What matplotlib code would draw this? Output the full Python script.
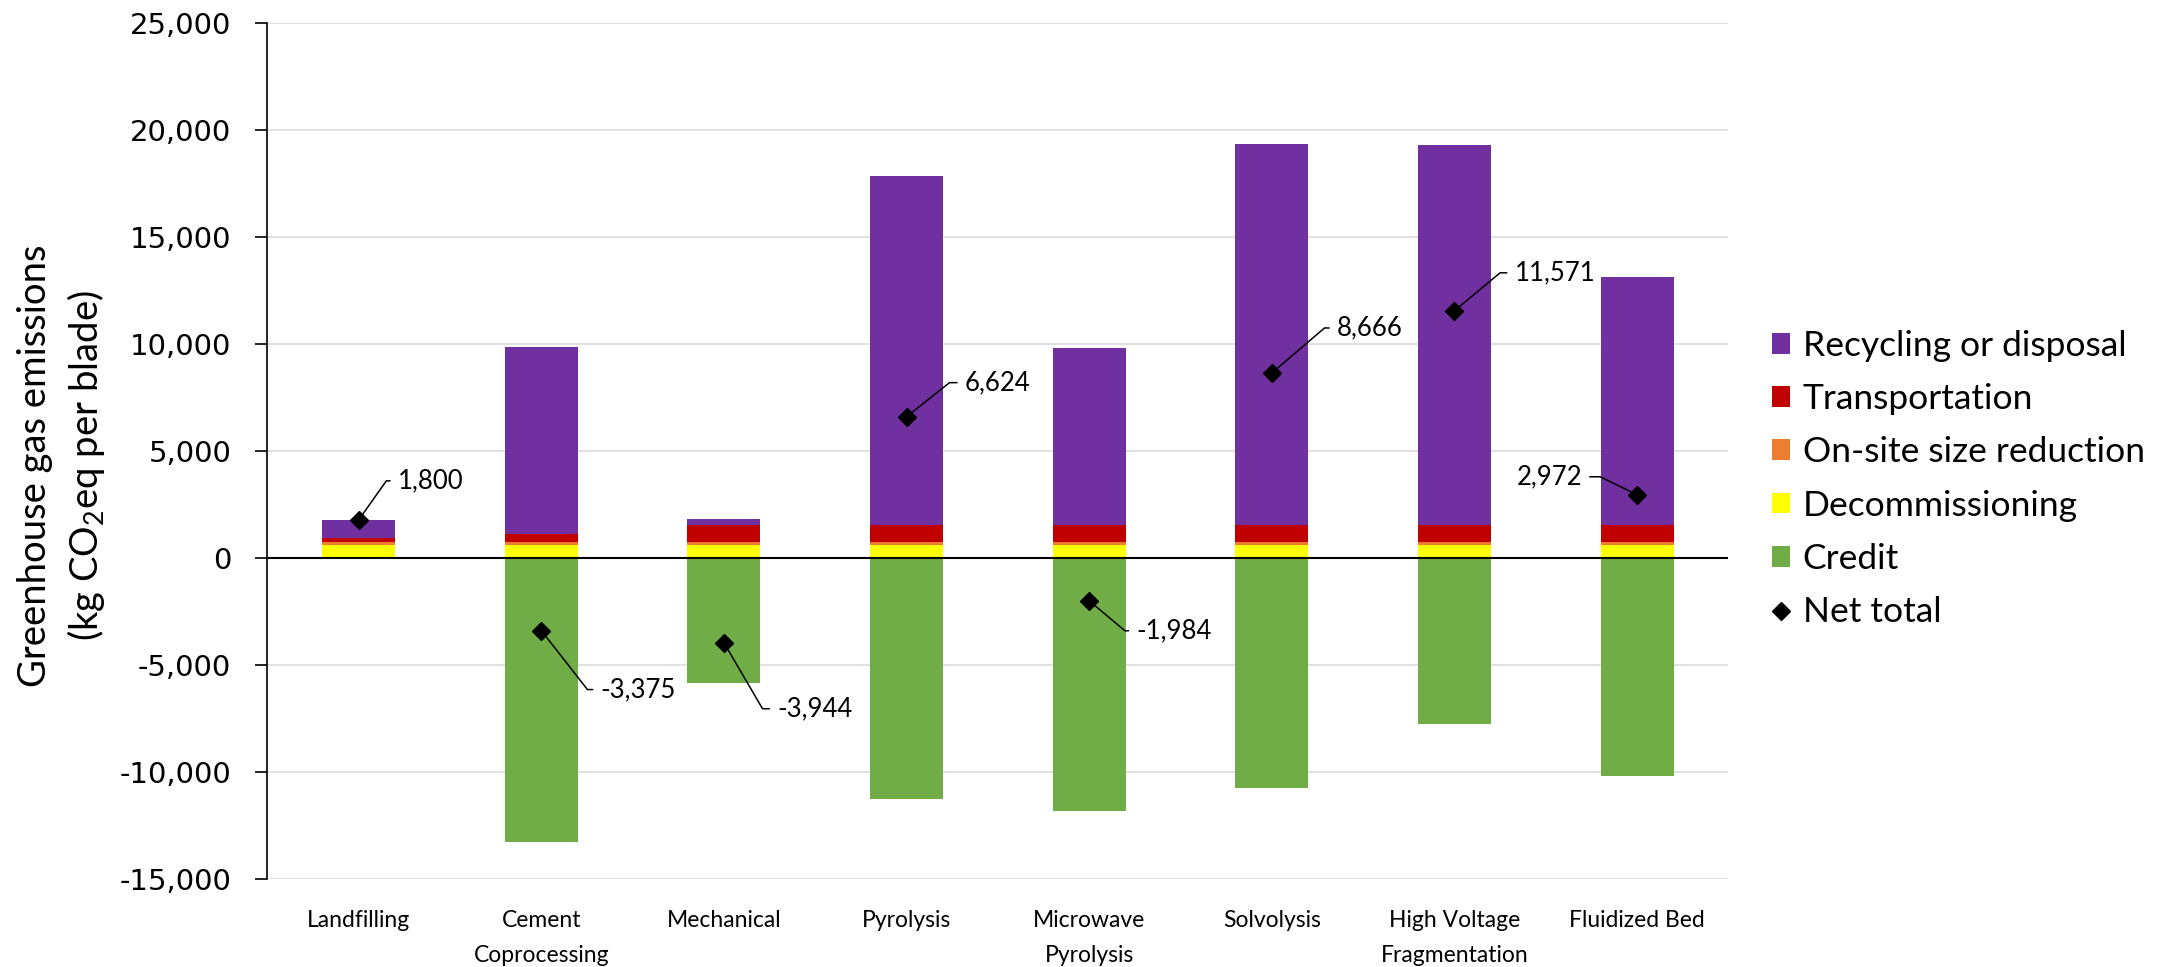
import numpy as np
import matplotlib
matplotlib.use("Agg")
import matplotlib.pyplot as plt
from matplotlib.patches import Patch
from matplotlib.lines import Line2D

plt.rcParams["font.family"] = ["Lato", "DejaVu Sans"]
plt.rcParams["mathtext.fontset"] = "custom"
plt.rcParams["mathtext.rm"] = "Lato"

categories = [
    "Landfilling",
    "Cement\nCoprocessing",
    "Mechanical",
    "Pyrolysis",
    "Microwave\nPyrolysis",
    "Solvolysis",
    "High Voltage\nFragmentation",
    "Fluidized Bed",
]
decommissioning = [620, 620, 620, 620, 620, 620, 620, 620]
size_reduction = [155, 155, 155, 155, 155, 155, 155, 155]
transportation = [185, 345, 805, 805, 805, 805, 805, 805]
recycling = [840, 8760, 280, 16310, 8240, 17800, 17750, 11560]
credit = [0, -13255, -5804, -11266, -11804, -10714, -7759, -10168]
net_total = [1800, -3375, -3944, 6624, -1984, 8666, 11571, 2972]

# label placement for the net total callouts (pixels from the marker)
label_offsets = [(39, 39), (59, -59), (53, -66), (58, 34), (47, -30), (65, 45), (60, 38), (-55, 18)]
leader_angles = [54.7, -52, -59.7, 38.4, -40, 40.5, 39.8, 154]

series = [
    ("Decommissioning", decommissioning, "#FFFF00"),
    ("On-site size reduction", size_reduction, "#ED7D31"),
    ("Transportation", transportation, "#C00000"),
    ("Recycling or disposal", recycling, "#7030A0"),
]

fig = plt.figure(figsize=(21.67, 9.67), dpi=100)
ax = fig.add_axes([0.1234, 0.0907, 0.6742, 0.885])

x = np.arange(len(categories))
width = 0.4
bottom = np.zeros(len(categories))
for name, vals, color in series:
    ax.bar(x, vals, width, bottom=bottom, color=color, linewidth=0, zorder=2)
    bottom += np.array(vals)
ax.bar(x, credit, width, color="#70AD47", linewidth=0, zorder=2)

ax.plot(x, net_total, linestyle="none", marker="D", markersize=9.5,
        color="black", zorder=4)

for i, val in enumerate(net_total):
    dx, dy = label_offsets[i]
    right = dx < 0
    ax.annotate(
        f"{val:,}",
        xy=(x[i], val),
        xytext=(dx, dy),
        textcoords="offset pixels",
        ha="right" if right else "left",
        va="center",
        fontsize=18.5,
        arrowprops=dict(
            arrowstyle="-",
            color="black",
            lw=1.1,
            shrinkA=3.5,
            shrinkB=0,
            relpos=(1, 0.5) if right else (0, 0.5),
            connectionstyle=f"angle,angleA=0,angleB={leader_angles[i]},rad=0",
        ),
        zorder=5,
    )

ax.axhline(0, color="black", lw=1.5, zorder=3)

ax.set_xlim(-0.5, len(categories) - 0.5)
ax.set_ylim(-15000, 25000)
ax.set_yticks(np.arange(-15000, 25001, 5000))
ax.yaxis.set_major_formatter(matplotlib.ticker.FuncFormatter(lambda v, p: f"{int(v):,}"))
ax.yaxis.grid(True, color="#D9D9D9", lw=1.1, zorder=0)
ax.set_axisbelow(True)
for side in ["top", "right", "bottom"]:
    ax.spines[side].set_visible(False)
ax.spines["left"].set_linewidth(1.2)
ax.tick_params(axis="y", length=9, width=1.2, pad=17, labelsize=21)
for lbl in ax.get_yticklabels():
    lbl.set_fontfamily("DejaVu Sans")

ax.set_xticks(x)
ax.set_xticklabels(categories, fontsize=16.5, linespacing=1.85)
ax.tick_params(axis="x", length=0, pad=22)

fig.text(62 / 2167, 1 - 466 / 967,
         "Greenhouse gas emissions\n(kg CO$_\\mathregular{2}$eq per blade)",
         rotation=90, ha="center", va="center", multialignment="center",
         fontsize=27.5, linespacing=1.35)

handles = [
    Patch(facecolor="#7030A0", label="Recycling or disposal"),
    Patch(facecolor="#C00000", label="Transportation"),
    Patch(facecolor="#ED7D31", label="On-site size reduction"),
    Patch(facecolor="#FFFF00", label="Decommissioning"),
    Patch(facecolor="#70AD47", label="Credit"),
    Line2D([], [], linestyle="none", marker="D", markersize=9.5, color="black",
           label="Net total"),
]
fig.legend(
    handles=handles,
    loc="center left",
    bbox_to_anchor=(1772 / 2167, 1 - 479 / 967),
    frameon=False,
    fontsize=25.5,
    handlelength=0.52,
    handleheight=0.52,
    handletextpad=0.35,
    labelspacing=0.6,
    borderpad=0,
    borderaxespad=0,
)

fig.savefig("out.png", dpi=100)
